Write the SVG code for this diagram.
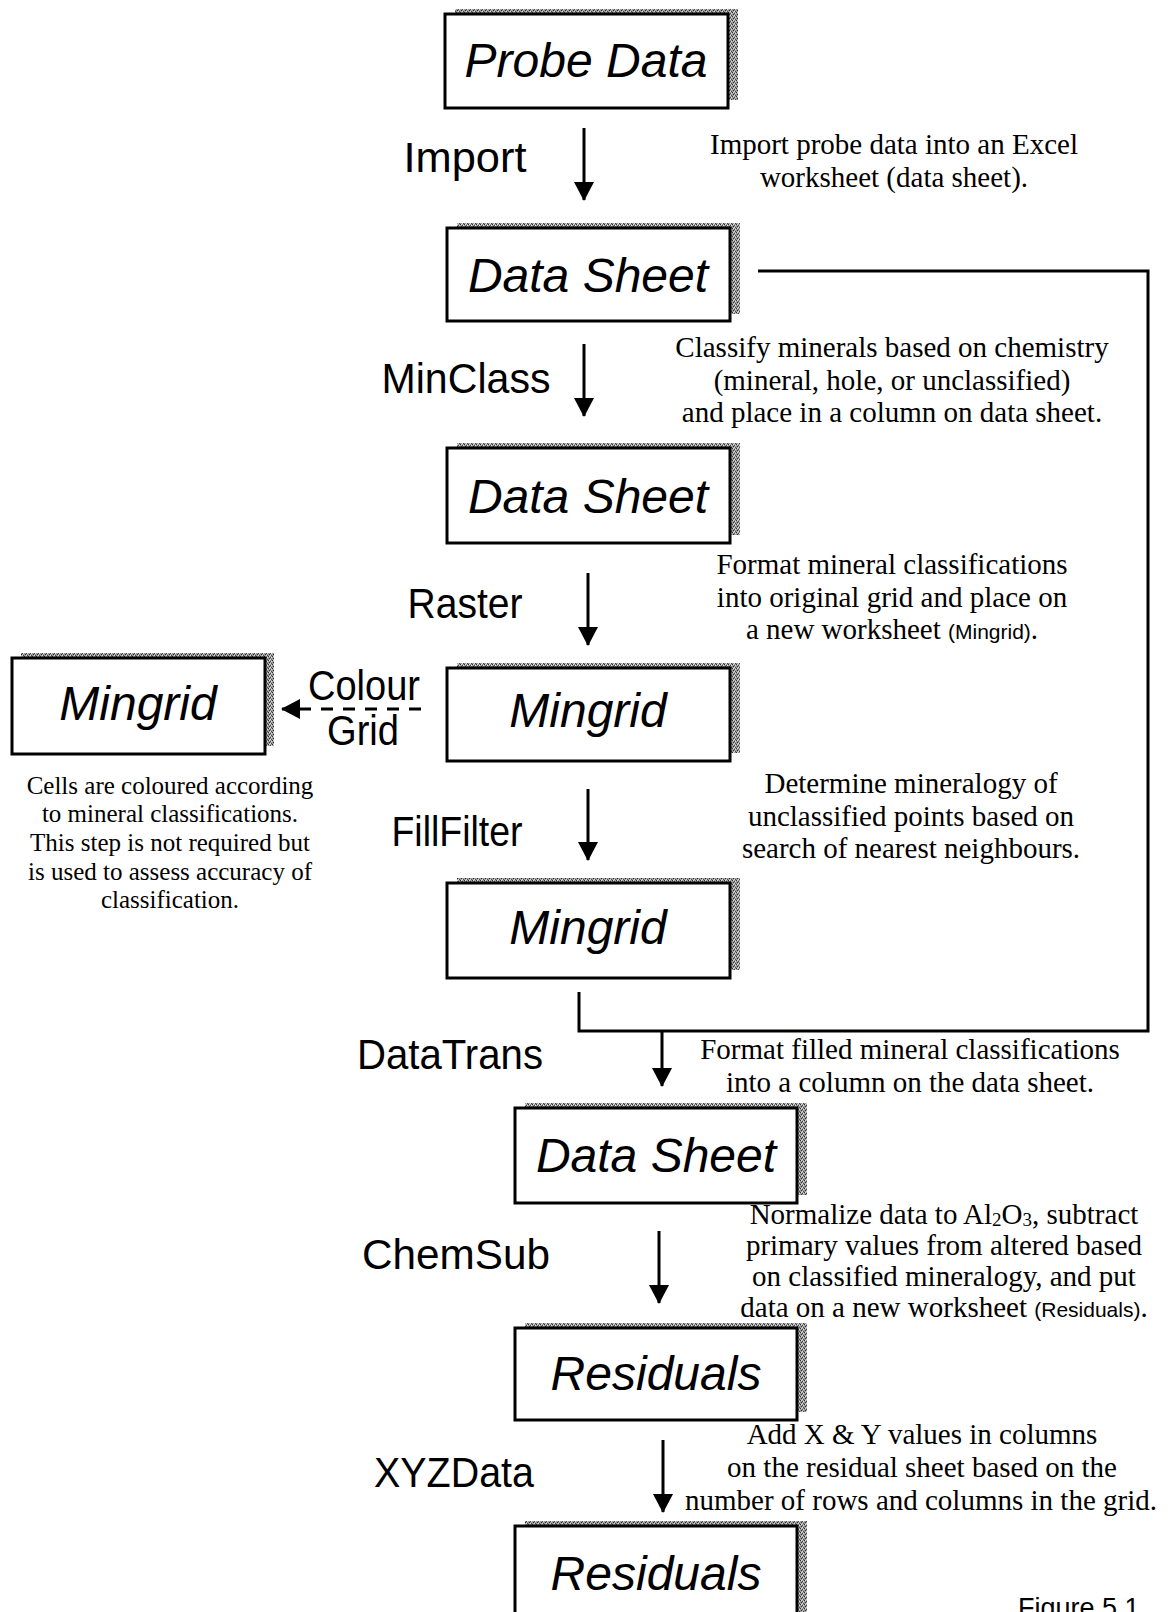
<svg xmlns="http://www.w3.org/2000/svg" width="1172" height="1612" viewBox="0 0 1172 1612">
  <style>
    .box { fill: #ffffff; stroke: #000000; stroke-width: 3; }
    .shadow { fill: url(#halftone); }
    .title { font-family: "Liberation Sans", Arial, sans-serif; font-style: italic; font-size: 48px; fill: #000; text-anchor: middle; }
    .step { font-family: "Liberation Sans", Arial, sans-serif; font-size: 42px; fill: #000; text-anchor: middle; }
    .note { font-family: "Liberation Serif", "Times New Roman", serif; font-size: 29px; fill: #000; text-anchor: middle; }
    .note-sm { font-family: "Liberation Serif", "Times New Roman", serif; font-size: 25px; fill: #000; text-anchor: middle; }
    .sans-sm { font-family: "Liberation Sans", Arial, sans-serif; font-size: 21px; }
    .link { fill: none; stroke: #000; stroke-width: 3; }
    .fig { font-family: "Liberation Sans", Arial, sans-serif; font-size: 27px; fill: #000; }
  </style>
  <defs>
    <pattern id="halftone" width="4" height="4" patternUnits="userSpaceOnUse">
      <rect width="4" height="4" fill="#9c9c9c"/>
      <rect x="0" y="0" width="1" height="1" fill="#2e2e2e"/>
      <rect x="2" y="1" width="1" height="1" fill="#4a4a4a"/>
      <rect x="1" y="2" width="1" height="1" fill="#2e2e2e"/>
      <rect x="3" y="3" width="1" height="1" fill="#4a4a4a"/>
      <rect x="3" y="1" width="1" height="1" fill="#dcdcdc"/>
      <rect x="1" y="0" width="1" height="1" fill="#dcdcdc"/>
      <rect x="2" y="3" width="1" height="1" fill="#dcdcdc"/>
    </pattern>
    <marker id="arrow" markerUnits="userSpaceOnUse" markerWidth="20" markerHeight="20" refX="18" refY="10" orient="auto">
      <path d="M0,0 L19,10 L0,20 z" fill="#000"/>
    </marker>
  </defs>

  <!-- Process boxes -->
  <g id="probe-data">
    <rect class="shadow" x="455" y="9" width="283" height="91"/>
    <rect class="box" x="445" y="14" width="283" height="94"/>
    <text class="title" x="586" y="77">Probe Data</text>
  </g>
  <g id="data-sheet-1">
    <rect class="shadow" x="457" y="223" width="283" height="91"/>
    <rect class="box" x="447" y="228" width="283" height="93"/>
    <text class="title" x="588" y="292">Data Sheet</text>
  </g>
  <g id="data-sheet-2">
    <rect class="shadow" x="457" y="443" width="283" height="92"/>
    <rect class="box" x="447" y="448" width="283" height="95"/>
    <text class="title" x="588" y="513">Data Sheet</text>
  </g>
  <g id="mingrid-1">
    <rect class="shadow" x="457" y="663" width="283" height="90"/>
    <rect class="box" x="447" y="668" width="283" height="93"/>
    <text class="title" x="588" y="727">Mingrid</text>
  </g>
  <g id="mingrid-coloured">
    <rect class="shadow" x="21" y="653" width="253" height="93"/>
    <rect class="box" x="12" y="658" width="253" height="96"/>
    <text class="title" x="138" y="720">Mingrid</text>
  </g>
  <g id="mingrid-2">
    <rect class="shadow" x="457" y="878" width="283" height="92"/>
    <rect class="box" x="447" y="883" width="283" height="95"/>
    <text class="title" x="588" y="944">Mingrid</text>
  </g>
  <g id="data-sheet-3">
    <rect class="shadow" x="525" y="1103" width="282" height="92"/>
    <rect class="box" x="515" y="1108" width="282" height="95"/>
    <text class="title" x="656" y="1172">Data Sheet</text>
  </g>
  <g id="residuals-1">
    <rect class="shadow" x="525" y="1323" width="282" height="89"/>
    <rect class="box" x="515" y="1328" width="282" height="92"/>
    <text class="title" x="656" y="1390">Residuals</text>
  </g>
  <g id="residuals-2">
    <rect class="shadow" x="525" y="1521" width="282" height="120"/>
    <rect class="box" x="515" y="1526" width="282" height="120"/>
    <text class="title" x="656" y="1590">Residuals</text>
  </g>

  <!-- Connectors -->
  <g id="connectors">
    <line class="link" x1="584" y1="128" x2="584" y2="200" marker-end="url(#arrow)"/>
    <line class="link" x1="584" y1="344" x2="584" y2="416" marker-end="url(#arrow)"/>
    <line class="link" x1="588" y1="573" x2="588" y2="645" marker-end="url(#arrow)"/>
    <line class="link" x1="588" y1="789" x2="588" y2="860" marker-end="url(#arrow)"/>
    <polyline class="link" points="758,271 1148,271 1148,1031 579,1031 579,992"/>
    <line class="link" x1="662" y1="1031" x2="662" y2="1086" marker-end="url(#arrow)"/>
    <line class="link" x1="659" y1="1231" x2="659" y2="1303" marker-end="url(#arrow)"/>
    <line class="link" x1="663" y1="1440" x2="663" y2="1512" marker-end="url(#arrow)"/>
    <line class="link" x1="421" y1="709" x2="282" y2="709" stroke-dasharray="12 10" marker-end="url(#arrow)"/>
  </g>

  <!-- Step labels -->
  <g id="step-labels">
    <text class="step" x="465" y="172" textLength="123" lengthAdjust="spacingAndGlyphs">Import</text>
    <text class="step" x="466" y="393" textLength="169" lengthAdjust="spacingAndGlyphs">MinClass</text>
    <text class="step" x="465" y="618" textLength="115" lengthAdjust="spacingAndGlyphs">Raster</text>
    <text class="step" x="457" y="846" textLength="131" lengthAdjust="spacingAndGlyphs">FillFilter</text>
    <text class="step" x="450" y="1069" textLength="186" lengthAdjust="spacingAndGlyphs">DataTrans</text>
    <text class="step" x="456" y="1269" textLength="188" lengthAdjust="spacingAndGlyphs">ChemSub</text>
    <text class="step" x="454" y="1487" textLength="160" lengthAdjust="spacingAndGlyphs">XYZData</text>
    <text class="step" x="364" y="700" font-size="35" textLength="112" lengthAdjust="spacingAndGlyphs">Colour</text>
    <text class="step" x="363" y="745" font-size="35" textLength="72" lengthAdjust="spacingAndGlyphs">Grid</text>
  </g>

  <!-- Step descriptions -->
  <g id="notes">
    <text class="note" x="894" y="154">Import probe data into an Excel</text>
    <text class="note" x="894" y="187">worksheet (data sheet).</text>

    <text class="note" x="892" y="357">Classify minerals based on chemistry</text>
    <text class="note" x="892" y="390">(mineral, hole, or unclassified)</text>
    <text class="note" x="892" y="422">and place in a column on data sheet.</text>

    <text class="note" x="892" y="574">Format mineral classifications</text>
    <text class="note" x="892" y="607">into original grid and place on</text>
    <text class="note" x="892" y="639">a new worksheet <tspan class="sans-sm">(Mingrid)</tspan>.</text>

    <text class="note" x="911" y="793">Determine mineralogy of</text>
    <text class="note" x="911" y="826">unclassified points based on</text>
    <text class="note" x="911" y="858">search of nearest neighbours.</text>

    <text class="note-sm" x="170" y="794">Cells are coloured according</text>
    <text class="note-sm" x="170" y="822">to mineral classifications.</text>
    <text class="note-sm" x="170" y="851">This step is not required but</text>
    <text class="note-sm" x="170" y="880">is used to assess accuracy of</text>
    <text class="note-sm" x="170" y="908">classification.</text>

    <text class="note" x="910" y="1059">Format filled mineral classifications</text>
    <text class="note" x="910" y="1092">into a column on the data sheet.</text>

    <text class="note" x="944" y="1224">Normalize data to Al<tspan font-size="19" dy="2">2</tspan><tspan dy="-2">O</tspan><tspan font-size="19" dy="2">3</tspan><tspan dy="-2">, subtract</tspan></text>
    <text class="note" x="944" y="1255">primary values from altered based</text>
    <text class="note" x="944" y="1286">on classified mineralogy, and put</text>
    <text class="note" x="944" y="1317">data on a new worksheet <tspan class="sans-sm">(Residuals)</tspan>.</text>

    <text class="note" x="922" y="1444">Add X &amp; Y values in columns</text>
    <text class="note" x="922" y="1477">on the residual sheet based on the</text>
    <text class="note" x="921" y="1510">number of rows and columns in the grid.</text>
  </g>

  <text class="fig" x="1018" y="1617">Figure 5.1</text>
</svg>
